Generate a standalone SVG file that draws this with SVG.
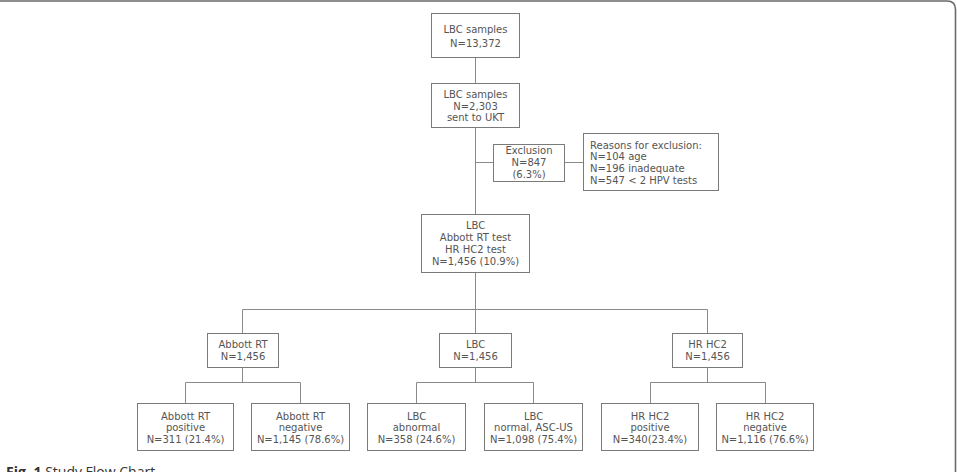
<svg xmlns="http://www.w3.org/2000/svg" width="957" height="472" viewBox="0 0 957 472">
  <style>
    .box { fill: #ffffff; stroke: #7a7a7a; stroke-width: 1; }
    .lbl { font-family: "DejaVu Sans", Verdana, sans-serif; font-size: 10px; fill: #555555; text-anchor: middle; }
    .lft { text-anchor: start; }
    .wire { stroke: #8a8a8a; stroke-width: 1; fill: none; }
    .cap { font-family: "Open Sans", "Liberation Sans", sans-serif; font-size: 14px; fill: #333333; }
  </style>
  <rect width="957" height="472" fill="#ffffff"/>
  <!-- page frame: top rule and rounded right edge -->
  <path d="M0,1 H947 Q955.5,1 955.5,9.5 V472" fill="none" stroke="#6a6a6a" stroke-width="1.6"/>

  <g id="connectors">
    <path class="wire" d="M475.5,57 V83 M475.5,127 V214 M475.5,272 V309.5"/>
    <path class="wire" d="M475.5,162.5 H493 M565 162.5 H583"/>
    <path class="wire" d="M242.5,309.5 H707.5 M242.5,309.5 V333 M475.5,309.5 V333 M707.5,309.5 V333"/>
    <path class="wire" d="M242.5,367 V382.5 M185.5,382.5 H300.5 M185.5,382.5 V403 M300.5,382.5 V403"/>
    <path class="wire" d="M475.5,367 V382.5 M416.5,382.5 H533.5 M416.5,382.5 V403 M533.5,382.5 V403"/>
    <path class="wire" d="M707.5,367 V382.5 M650.5,382.5 H765.5 M650.5,382.5 V403 M765.5,382.5 V403"/>
  </g>

  <g id="lbc-all">
    <rect class="box" x="431.5" y="13.5" width="88" height="44"/>
    <text class="lbl" x="475.5" y="33">LBC samples</text>
    <text class="lbl" x="475.5" y="46.5">N=13,372</text>
  </g>
  <g id="lbc-ukt">
    <rect class="box" x="431.5" y="83.5" width="88" height="44"/>
    <text class="lbl" x="475.5" y="97.5">LBC samples</text>
    <text class="lbl" x="475.5" y="109.5">N=2,303</text>
    <text class="lbl" x="475.5" y="121">sent to UKT</text>
  </g>
  <g id="exclusion">
    <rect class="box" x="493.5" y="144.5" width="71" height="37"/>
    <text class="lbl" x="529" y="154">Exclusion</text>
    <text class="lbl" x="529" y="166">N=847</text>
    <text class="lbl" x="529" y="177.5">(6.3%)</text>
  </g>
  <g id="reasons">
    <rect class="box" x="583.5" y="133.5" width="135" height="57"/>
    <text class="lbl lft" x="590" y="148.5">Reasons for exclusion:</text>
    <text class="lbl lft" x="590" y="160">N=104 age</text>
    <text class="lbl lft" x="590" y="172">N=196 inadequate</text>
    <text class="lbl lft" x="590" y="183.5">N=547 &lt; 2 HPV tests</text>
  </g>
  <g id="lbc-tested">
    <rect class="box" x="421.5" y="214.5" width="108" height="58"/>
    <text class="lbl" x="475.5" y="228.5">LBC</text>
    <text class="lbl" x="475.5" y="240.5">Abbott RT test</text>
    <text class="lbl" x="475.5" y="252.5">HR HC2 test</text>
    <text class="lbl" x="475.5" y="264.5">N=1,456 (10.9%)</text>
  </g>

  <g id="abbott">
    <rect class="box" x="207.5" y="333.5" width="71" height="34"/>
    <text class="lbl" x="243" y="348">Abbott RT</text>
    <text class="lbl" x="243" y="359.5">N=1,456</text>
  </g>
  <g id="lbc">
    <rect class="box" x="439.5" y="333.5" width="72" height="34"/>
    <text class="lbl" x="475.5" y="348">LBC</text>
    <text class="lbl" x="475.5" y="359.5">N=1,456</text>
  </g>
  <g id="hc2">
    <rect class="box" x="672.5" y="333.5" width="70" height="34"/>
    <text class="lbl" x="707.5" y="348">HR HC2</text>
    <text class="lbl" x="707.5" y="359.5">N=1,456</text>
  </g>

  <g id="abbott-pos">
    <rect class="box" x="137.5" y="403.5" width="96" height="47"/>
    <text class="lbl" x="185.5" y="419.5">Abbott RT</text>
    <text class="lbl" x="185.5" y="431">positive</text>
    <text class="lbl" x="185.5" y="442.5">N=311 (21.4%)</text>
  </g>
  <g id="abbott-neg">
    <rect class="box" x="251.5" y="403.5" width="98" height="47"/>
    <text class="lbl" x="300.5" y="419.5">Abbott RT</text>
    <text class="lbl" x="300.5" y="431">negative</text>
    <text class="lbl" x="300.5" y="442.5">N=1,145 (78.6%)</text>
  </g>
  <g id="lbc-abn">
    <rect class="box" x="367.5" y="403.5" width="98" height="47"/>
    <text class="lbl" x="416.5" y="419.5">LBC</text>
    <text class="lbl" x="416.5" y="431">abnormal</text>
    <text class="lbl" x="416.5" y="442.5">N=358 (24.6%)</text>
  </g>
  <g id="lbc-norm">
    <rect class="box" x="484.5" y="403.5" width="98" height="47"/>
    <text class="lbl" x="533.5" y="419.5">LBC</text>
    <text class="lbl" x="533.5" y="431">normal, ASC-US</text>
    <text class="lbl" x="533.5" y="442.5">N=1,098 (75.4%)</text>
  </g>
  <g id="hc2-pos">
    <rect class="box" x="601.5" y="403.5" width="97" height="47"/>
    <text class="lbl" x="650" y="419.5">HR HC2</text>
    <text class="lbl" x="650" y="431">positive</text>
    <text class="lbl" x="650" y="442.5">N=340(23.4%)</text>
  </g>
  <g id="hc2-neg">
    <rect class="box" x="716.5" y="403.5" width="97" height="47"/>
    <text class="lbl" x="765" y="419.5">HR HC2</text>
    <text class="lbl" x="765" y="431">negative</text>
    <text class="lbl" x="765" y="442.5">N=1,116 (76.6%)</text>
  </g>

  <text class="cap" x="6" y="477"><tspan font-weight="bold">Fig. 1</tspan> Study Flow Chart</text>
</svg>
